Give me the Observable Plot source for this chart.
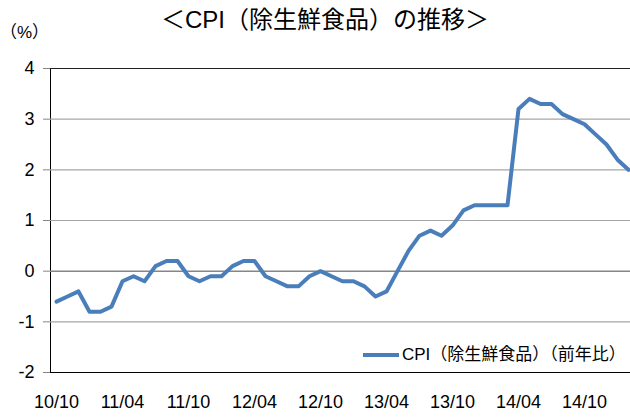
<!DOCTYPE html>
<html>
<head>
<meta charset="utf-8">
<script src="https://cdn.jsdelivr.net/npm/d3@7"></script>
<script src="https://cdn.jsdelivr.net/npm/@observablehq/plot@0.6"></script>
<style>
  body { margin: 0; background: #fff; font-family: "Liberation Sans", "Noto Sans CJK JP", sans-serif; }
  #wrap { position: relative; width: 630px; height: 417px; overflow: hidden; }
  #head { position: relative; width: 630px; height: 60px; }
  #title { position: absolute; left: 0; width: 650px; top: 6px; text-align: center; font-size: 24px; line-height: 28px; color: #000; }
  #unit { position: absolute; left: 0px; top: 23px; font-size: 17px; line-height: 20px; color: #000; }
  #legend { position: absolute; left: 363px; top: 345px; display: flex; align-items: center; font-size: 17px; line-height: 20px; color: #000; white-space: nowrap; }
  #legend .sw { width: 36px; height: 4px; background: #4a7ebb; margin-right: 3px; }
  #chart svg g[aria-label="y-axis tick"] { stroke: #868686; }
  #chart svg g[aria-label="y-axis line"] { stroke: #868686; }
</style>
</head>
<body>
<div id="wrap">
  <div id="head">
    <div id="title">＜CPI（除生鮮食品）の推移＞</div>
    <div id="unit">（%）</div>
  </div>
  <div id="chart"></div>
  <div id="legend"><div class="sw"></div><span>CPI（除生鮮食品）（前年比）</span></div>
</div>
<script>
const months = [
  "10/10","10/11","10/12",
  "11/01","11/02","11/03","11/04","11/05","11/06","11/07","11/08","11/09","11/10","11/11","11/12",
  "12/01","12/02","12/03","12/04","12/05","12/06","12/07","12/08","12/09","12/10","12/11","12/12",
  "13/01","13/02","13/03","13/04","13/05","13/06","13/07","13/08","13/09","13/10","13/11","13/12",
  "14/01","14/02","14/03","14/04","14/05","14/06","14/07","14/08","14/09","14/10","14/11","14/12",
  "15/01","15/02"
];
const cpi = [
  -0.6,-0.5,-0.4,
  -0.8,-0.8,-0.7,-0.2,-0.1,-0.2,0.1,0.2,0.2,-0.1,-0.2,-0.1,
  -0.1,0.1,0.2,0.2,-0.1,-0.2,-0.3,-0.3,-0.1,0.0,-0.1,-0.2,
  -0.2,-0.3,-0.5,-0.4,0.0,0.4,0.7,0.8,0.7,0.9,1.2,1.3,
  1.3,1.3,1.3,3.2,3.4,3.3,3.3,3.1,3.0,2.9,2.7,2.5,
  2.2,2.0
];
const xTickLabels = ["10/10","11/04","11/10","12/04","12/10","13/04","13/10","14/04","14/10"];
const yTicks = [-2,-1,0,1,2,3,4];
const gridLight = [-1,1,2,3];

const data = months.map((m, i) => ({month: m, value: cpi[i]}));

const chart = Plot.plot({
  width: 630,
  height: 357,
  marginLeft: 50,
  marginRight: 0,
  marginTop: 8,
  marginBottom: 45,
  style: {fontFamily: '"Liberation Sans", Arial, sans-serif', fontSize: "18px", background: "#fff", color: "#000", overflow: "visible"},
  x: {type: "point", domain: months, range: [55, 628], padding: 0, ticks: xTickLabels, tickSize: 0, tickPadding: 23, label: null},
  y: {domain: [-2, 4], ticks: yTicks, tickFormat: d => String(d), tickSize: 7, tickPadding: 9, line: true, label: null},
  marks: [
    Plot.ruleY(gridLight, {stroke: "#a6a6a6", strokeWidth: 1.2}),
    Plot.ruleY([0], {stroke: "#868686", strokeWidth: 1.5}),
    Plot.ruleY([4], {stroke: "#222", strokeWidth: 1}),
    Plot.ruleY([-2], {stroke: "#000", strokeWidth: 1.2}),
    Plot.line(data, {x: "month", y: "value", stroke: "#4a7ebb", strokeWidth: 4, strokeLinejoin: "round", strokeLinecap: "round"})
  ]
});
document.getElementById("chart").appendChild(chart);
</script>
</body>
</html>
